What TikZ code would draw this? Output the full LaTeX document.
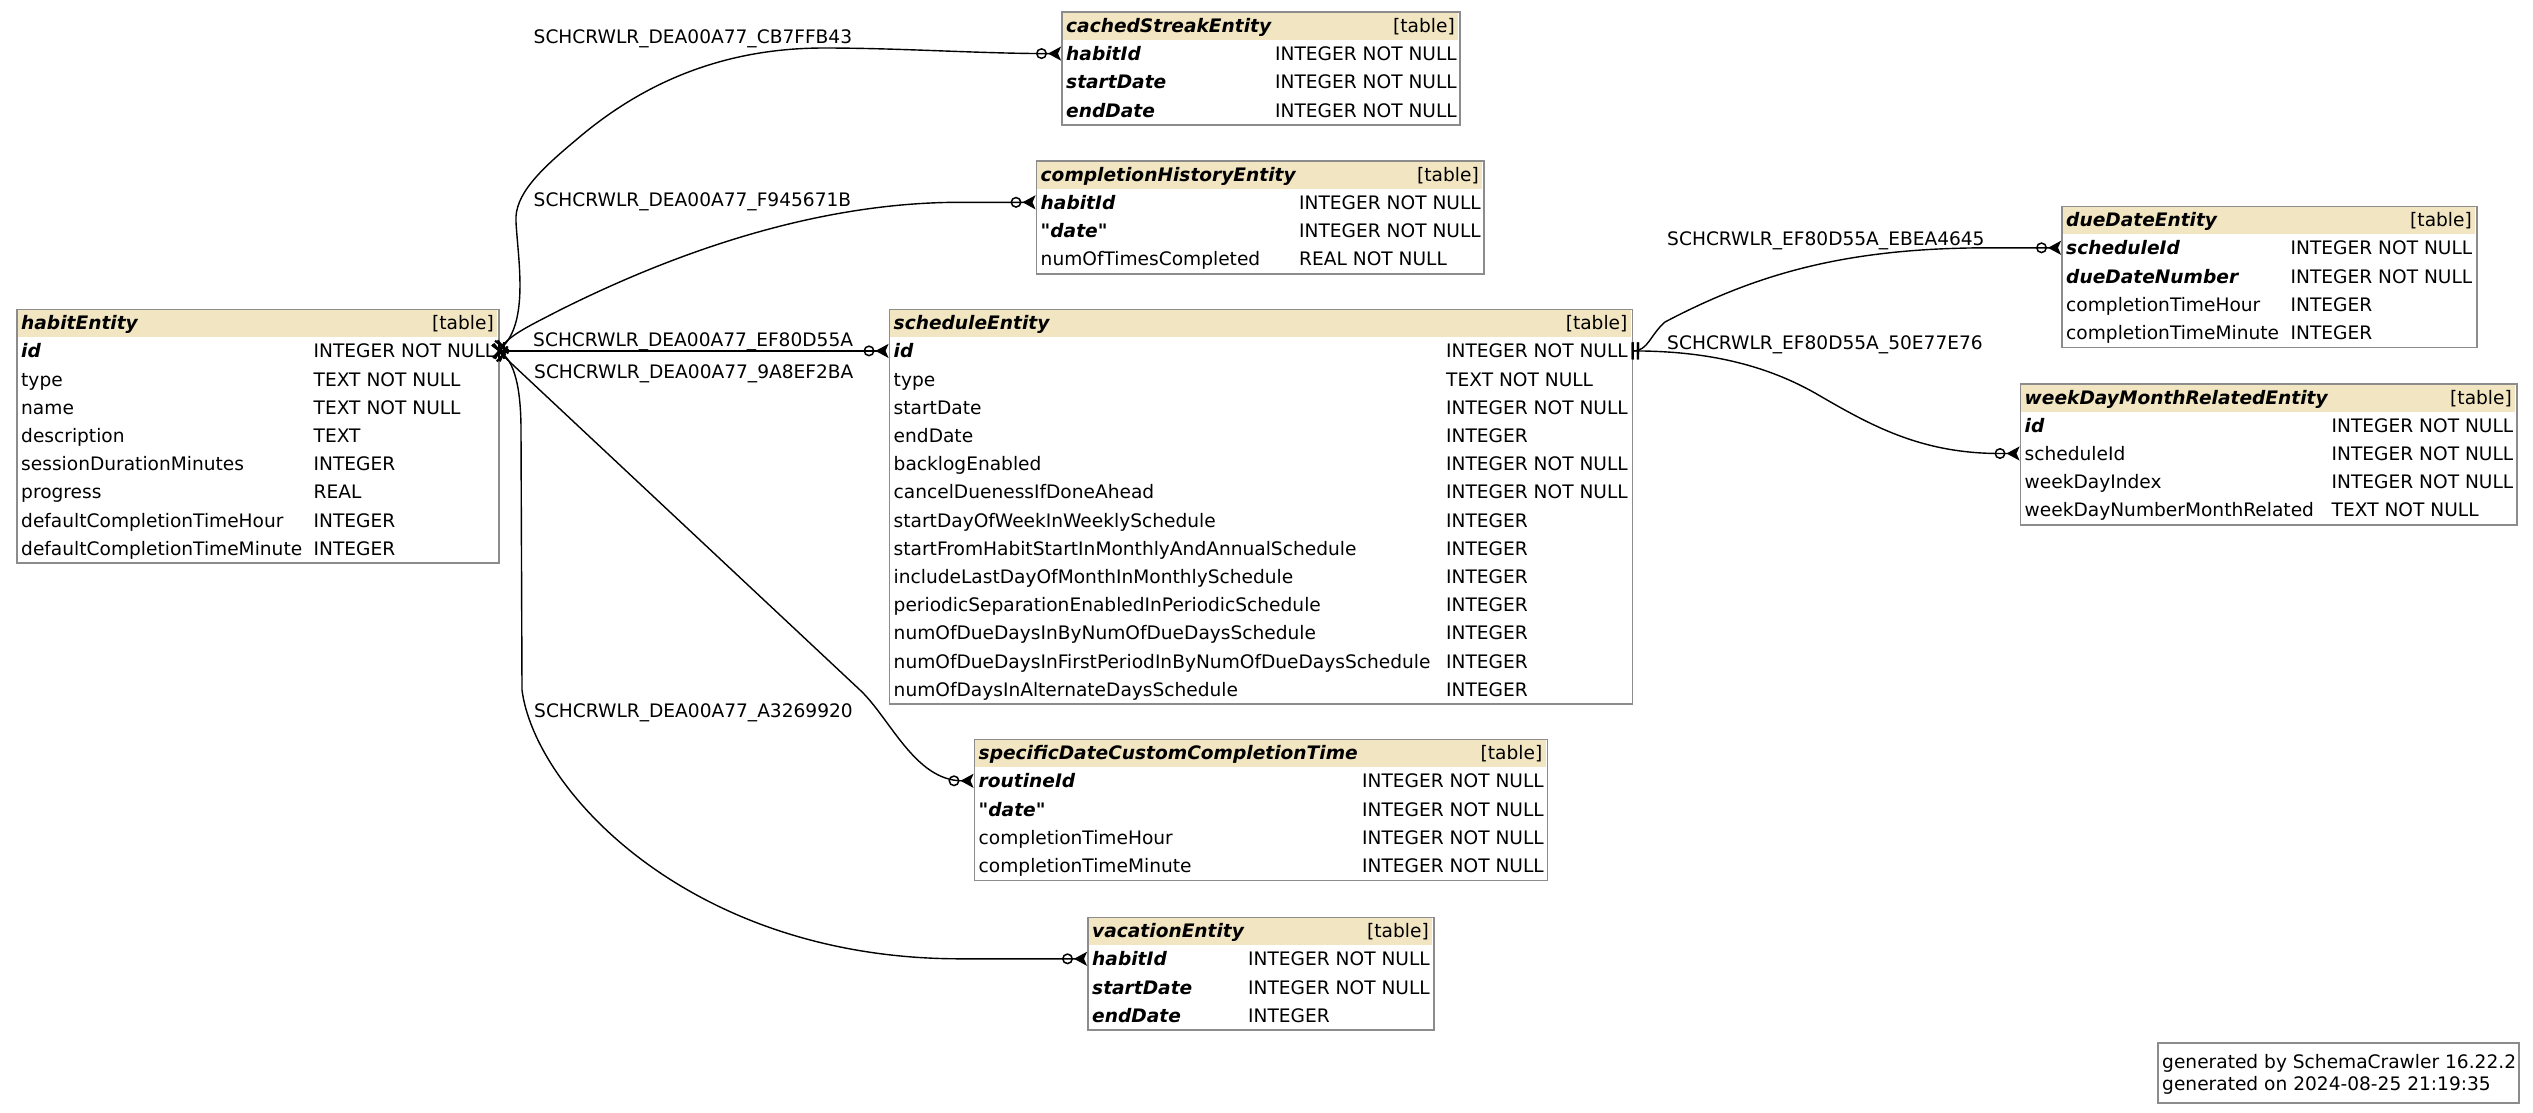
\documentclass[tikz,border=0pt]{standalone}
\usepackage{fontspec}
\setmainfont{DejaVu Sans}[Ligatures=TeXOff]
\usetikzlibrary{arrows.meta}
\definecolor{hdr}{HTML}{F2E6C2}
\definecolor{bord}{HTML}{8C8C8C}
\tikzset{
  txt/.style={inner sep=0pt, font=\fontsize{18.6}{22}\selectfont, anchor=base west},
  keytxt/.style={txt, font=\fontsize{18.6}{22}\selectfont\bfseries\itshape},
  tagtxt/.style={txt, anchor=base east},
  tbl/.style={draw=bord, line width=1.8pt, inner sep=0pt, anchor=north west},
  rel/.style={line width=1.4pt, black},
  erone/.tip={Bar[width=17pt,line width=2.2pt,sep=3pt] Bar[width=17pt,line width=2.2pt]},
  ermany/.tip={Circle[open,length=11pt,width=11pt,line width=1.5pt,sep=1pt] Stealth[reversed,length=13pt,width=14pt,inset=3pt]},
}
\newcommand\qd{"date"}
% #1 id, #2 x1, #3 x2, #4 top, #5 col2, #6 title, #7 nrows, #8 rows
\newcommand\ertable[8]{%
  \fill[hdr] (#2+1,#4+1) rectangle (#3-1,#4+28.5);
  \node[tbl, minimum width={(#3-#2)*1pt}, minimum height={(#7+1)*28.2pt}] (#1) at (#2,#4) {};
  \node[keytxt] (#1-title) at (#2+5,#4+21.1) {#6};
  \node[tagtxt] (#1-tag) at (#3-4,#4+21.1) {[table]};
  \foreach \a/\b/\c [count=\i] in {#8} {
    \pgfmathsetmacro\ery{#4+28.2*(\i+0.5)+7}
    \pgfmathsetmacro\erc{#4+28.2*(\i+0.5)}
    \ifnum\c=1
      \node[keytxt] (#1-n\i) at (#2+5,\ery) {\a};
    \else
      \node[txt] (#1-n\i) at (#2+5,\ery) {\a};
    \fi
    \node[txt] (#1-t\i) at (#5,\ery) {\b};
    \coordinate (#1-w\i) at (#2,\erc);
    \coordinate (#1-e\i) at (#3,\erc);
  }
}
\begin{document}
\begin{tikzpicture}[x=1pt,y=-1pt]
\fill[white] (0,0) rectangle (2533,1112);
\useasboundingbox (0,0) rectangle (2533,1112);

\ertable{habit}{16}{498}{308.6}{313.5}{habitEntity}{8}{%
  id/INTEGER NOT NULL/1, type/TEXT NOT NULL/0, name/TEXT NOT NULL/0,
  description/TEXT/0, sessionDurationMinutes/INTEGER/0, progress/REAL/0,
  defaultCompletionTimeHour/INTEGER/0, defaultCompletionTimeMinute/INTEGER/0}

\ertable{cached}{1061}{1459}{11.3}{1275}{cachedStreakEntity}{3}{%
  habitId/INTEGER NOT NULL/1, startDate/INTEGER NOT NULL/1, endDate/INTEGER NOT NULL/1}

\ertable{chist}{1035.5}{1483}{160}{1299}{completionHistoryEntity}{3}{%
  habitId/INTEGER NOT NULL/1, \qd/INTEGER NOT NULL/1, numOfTimesCompleted/REAL NOT NULL/0}

\ertable{sched}{888.5}{1631.6}{308.6}{1446}{scheduleEntity}{13}{%
  id/INTEGER NOT NULL/1, type/TEXT NOT NULL/0, startDate/INTEGER NOT NULL/0,
  endDate/INTEGER/0, backlogEnabled/INTEGER NOT NULL/0,
  cancelDuenessIfDoneAhead/INTEGER NOT NULL/0,
  startDayOfWeekInWeeklySchedule/INTEGER/0,
  startFromHabitStartInMonthlyAndAnnualSchedule/INTEGER/0,
  includeLastDayOfMonthInMonthlySchedule/INTEGER/0,
  periodicSeparationEnabledInPeriodicSchedule/INTEGER/0,
  numOfDueDaysInByNumOfDueDaysSchedule/INTEGER/0,
  numOfDueDaysInFirstPeriodInByNumOfDueDaysSchedule/INTEGER/0,
  numOfDaysInAlternateDaysSchedule/INTEGER/0}

\ertable{due}{2061}{2476}{205.5}{2290.5}{dueDateEntity}{4}{%
  scheduleId/INTEGER NOT NULL/1, dueDateNumber/INTEGER NOT NULL/1,
  completionTimeHour/INTEGER/0, completionTimeMinute/INTEGER/0}

\ertable{week}{2019.5}{2516}{383}{2331.5}{weekDayMonthRelatedEntity}{4}{%
  id/INTEGER NOT NULL/1, scheduleId/INTEGER NOT NULL/0,
  weekDayIndex/INTEGER NOT NULL/0, weekDayNumberMonthRelated/TEXT NOT NULL/0}

\ertable{spec}{973.5}{1546.5}{738.5}{1362}{specificDateCustomCompletionTime}{4}{%
  routineId/INTEGER NOT NULL/1, \qd/INTEGER NOT NULL/1,
  completionTimeHour/INTEGER NOT NULL/0, completionTimeMinute/INTEGER NOT NULL/0}

\ertable{vac}{1087}{1433}{916.5}{1248}{vacationEntity}{3}{%
  habitId/INTEGER NOT NULL/1, startDate/INTEGER NOT NULL/1, endDate/INTEGER/1}

% relationships
\draw[rel, {erone}-{ermany}] (habit-e1) .. controls (530,325) and (518,260) .. (516,222)
  .. controls (514,195) and (540,170) .. (576,140)
  .. controls (640,85) and (720,48) .. (824,48)
  .. controls (900,48) and (980,53.6) .. (cached-w1);
\draw[rel, {erone}-{ermany}] (habit-e1) .. controls (510,335) and (525,328) .. (560,310)
  .. controls (680,250) and (820,202.3) .. (960,202.3) -- (chist-w1);
\draw[rel, {erone}-{ermany}] (habit-e1) -- (sched-w1);
\draw[rel, {erone}-{ermany}] (habit-e1) -- (860,690)
  .. controls (890,718) and (915,780.8) .. (spec-w1);
\draw[rel, {erone}-{ermany}] (habit-e1) .. controls (515,360) and (521,390) .. (521,430)
  -- (522,690) .. controls (535,790) and (690,958.8) .. (960,958.8) -- (vac-w1);
\draw[rel, {erone}-{ermany}] (sched-e1) .. controls (1648,351) and (1650,335) .. (1665,322)
  .. controls (1760,272) and (1850,247.8) .. (1990,247.8) -- (due-w1);
\draw[rel, {erone}-{ermany}] (sched-e1) .. controls (1700,351) and (1760,362) .. (1815,393)
  .. controls (1870,425) and (1920,453.5) .. (2000,453.5) -- (week-w2);

% labels
\node[txt] (l1) at (533.5,43.7) {SCHCRWLR\_DEA00A77\_CB7FFB43};
\node[txt] (l2) at (533.5,206.7) {SCHCRWLR\_DEA00A77\_F945671B};
\node[txt] (l3) at (533,346.7) {SCHCRWLR\_DEA00A77\_EF80D55A};
\node[txt] (l4) at (534,378.7) {SCHCRWLR\_DEA00A77\_9A8EF2BA};
\node[txt] (l5) at (534,717.3) {SCHCRWLR\_DEA00A77\_A3269920};
\node[txt] (l6) at (1667,245.7) {SCHCRWLR\_EF80D55A\_EBEA4645};
\node[txt] (l7) at (1667,349.7) {SCHCRWLR\_EF80D55A\_50E77E76};

% footer
\node[tbl, minimum width=361pt, minimum height=60pt] (foot) at (2157,1042) {};
\node[txt] (foot1) at (2162,1068) {generated by SchemaCrawler 16.22.2};
\node[txt] (foot2) at (2162,1090) {generated on 2024-08-25 21:19:35};
\end{tikzpicture}
\end{document}
